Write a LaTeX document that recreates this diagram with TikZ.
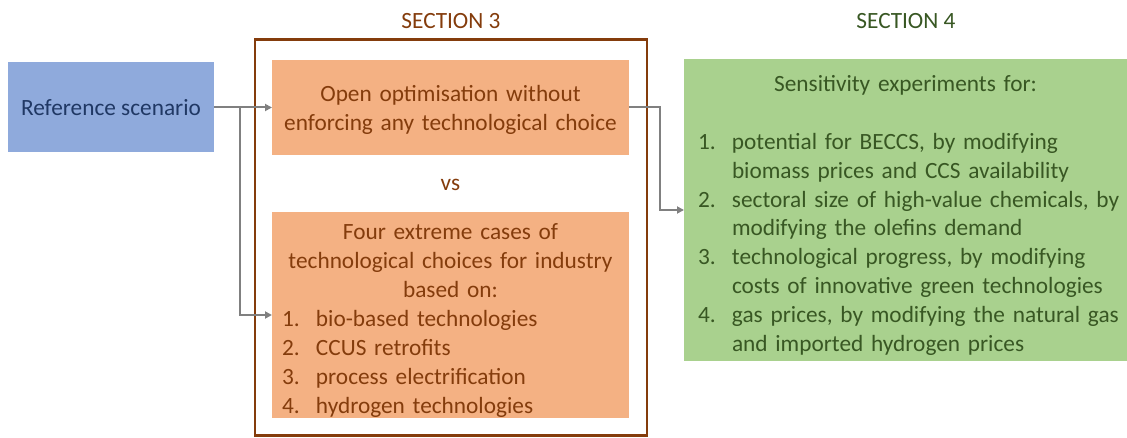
\documentclass[tikz,border=0pt]{standalone}
\usepackage{fontspec}
\setmainfont{Carlito}
\usepackage{tikz}
\usetikzlibrary{arrows.meta}

\definecolor{refblue}{HTML}{8FAADC}
\definecolor{refdark}{HTML}{203864}
\definecolor{optorange}{HTML}{F4B183}
\definecolor{optbrown}{HTML}{843C0C}
\definecolor{senslight}{HTML}{A9D18E}
\definecolor{sensdark}{HTML}{385723}
\definecolor{conngray}{HTML}{808080}

\newcommand{\itm}[1]{\makebox[34pt][l]{#1}}
\newcommand{\itmline}[1]{\makebox[\linewidth][l]{#1}}

\tikzset{
  box/.style={inner sep=0pt, outer sep=0pt, font=\fontsize{23.3}{28.9}\selectfont},
  lower/.style={execute at begin node={\rule{0pt}{#1}}},
  conn/.style={draw=conngray, line width=2pt, -{Triangle[length=7pt,width=7pt]}},
}

\begin{document}
\begin{tikzpicture}[x=1pt, y=-1pt]
\useasboundingbox (0,0) rectangle (1127,438);

% section headings
\node [box, text=optbrown] (head3) at (451,21) {SECTION 3};
\node [box, text=sensdark] (head4) at (906,21) {SECTION 4};

% starting point
\node [box, fill=refblue, text=refdark, minimum width=206pt, minimum height=90pt] (ref) at (111,107.5) {Reference scenario};

% section 3 frame and its two boxes
\node [box, draw=optbrown, line width=2.5pt, minimum width=392pt, minimum height=396pt] (sec3) at (451,237.5) {};
\node [box, fill=optorange, text=optbrown, minimum width=357pt, minimum height=95pt, text width=337pt, align=center, lower=21pt] (open) at (450.5,107.5)
  {Open optimisation without\\enforcing any technological choice};
\node [box, text=optbrown] (vs) at (450.5,185) {vs};
\node [box, fill=optorange, text=optbrown, minimum width=357pt, minimum height=206pt, text width=337pt, align=center, lower=27pt] (four) at (450.5,315)
  {Four extreme cases of\\technological choices for industry\\based on:\\
   \itmline{\itm{1.}bio-based technologies}\\
   \itmline{\itm{2.}CCUS retrofits}\\
   \itmline{\itm{3.}process electrification}\\
   \itmline{\itm{4.}hydrogen technologies}};

% section 4
\node [box, fill=senslight, text=sensdark, minimum width=443pt, minimum height=302pt, text width=415pt, align=center, lower=27pt] (sens) at (905.5,210)
  {Sensitivity experiments for:\\[28.9pt]
   \itmline{\itm{1.}potential for BECCS, by modifying}\\
   \itmline{\itm{}biomass prices and CCS availability}\\
   \itmline{\itm{2.}sectoral size of high-value chemicals, by}\\
   \itmline{\itm{}modifying the olefins demand}\\
   \itmline{\itm{3.}technological progress, by modifying}\\
   \itmline{\itm{}costs of innovative green technologies}\\
   \itmline{\itm{4.}gas prices, by modifying the natural gas}\\
   \itmline{\itm{}and imported hydrogen prices}};

% connectors
\coordinate (fork) at (240,107.5);
\draw [conn] (ref) -- (open);
\draw [conn] (fork) |- (four.west);
\draw [conn] (open.east) -- ++(31,0) |- (sens.west);
\end{tikzpicture}
\end{document}
